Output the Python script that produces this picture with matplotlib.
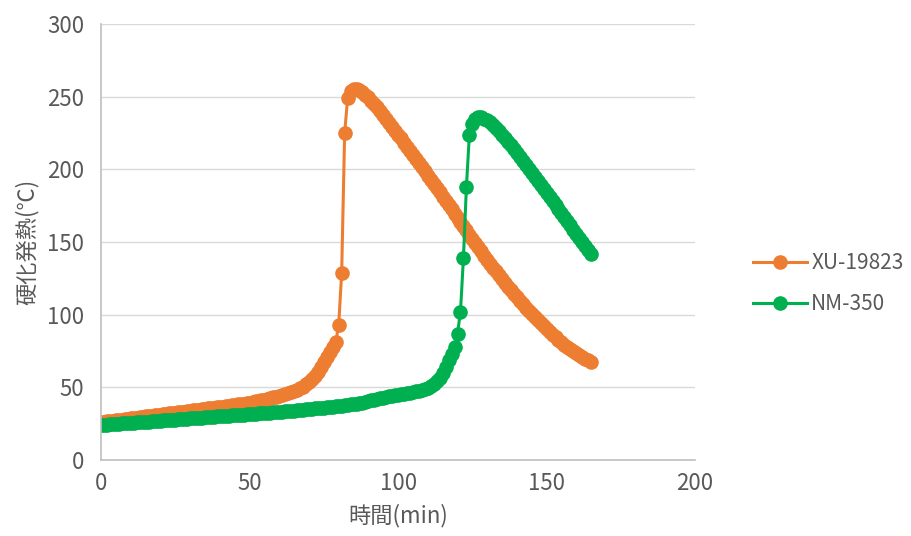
import matplotlib
matplotlib.use('Agg')
import matplotlib.pyplot as plt

plt.rcParams['font.family'] = ['Noto Sans CJK JP', 'DejaVu Sans']

# time (min)
minutes = list(range(0, 166))

# XU-19823 curing exotherm (deg C)
xu_19823 = [
    26.0, 26.3, 26.5, 26.8, 27.0, 27.3, 27.6, 27.8, 28.1, 28.4,
    28.6, 28.9, 29.1, 29.4, 29.7, 29.9, 30.2, 30.5, 30.7, 31.0,
    31.2, 31.5, 31.8, 32.0, 32.3, 32.5, 32.8, 33.1, 33.3, 33.6,
    33.8, 34.1, 34.4, 34.6, 34.9, 35.1, 35.4, 35.7, 35.9, 36.2,
    36.5, 36.7, 37.0, 37.3, 37.6, 37.9, 38.2, 38.5, 38.8, 39.2,
    39.5, 39.9, 40.3, 40.7, 41.1, 41.5, 42.0, 42.5, 43.0, 43.5,
    44.0, 44.6, 45.2, 45.9, 46.6, 47.4, 48.3, 49.3, 50.5, 52.0,
    53.7, 55.7, 58.0, 60.8, 64.0, 67.5, 71.0, 74.5, 78.0, 81.0,
    93.0, 129.0, 225.0, 249.0, 254.0, 255.5, 255.3, 254.5, 253.2, 251.5,
    249.5, 247.3, 245.0, 242.6, 240.0, 237.4, 234.8, 232.1, 229.4, 226.7,
    224.0, 221.3, 218.5, 215.7, 212.9, 210.1, 207.3, 204.4, 201.5, 198.6,
    195.7, 192.8, 189.9, 187.0, 184.1, 181.2, 178.3, 175.4, 172.5, 169.6,
    166.7, 163.8, 160.9, 158.0, 155.1, 152.2, 149.3, 146.4, 143.5, 140.7,
    137.9, 135.1, 132.4, 129.7, 127.0, 124.4, 121.8, 119.2, 116.7, 114.2,
    111.8, 109.4, 107.1, 104.8, 102.5, 100.3, 98.1, 96.0, 93.9, 91.9,
    89.9, 88.0, 86.1, 84.3, 82.6, 80.9, 79.3, 77.8, 76.3, 74.9,
    73.5, 72.2, 70.9, 69.7, 68.5, 67.4,
]

# NM-350 curing exotherm (deg C)
nm_350 = [
    24.0, 24.2, 24.3, 24.5, 24.6, 24.8, 24.9, 25.1, 25.2, 25.4,
    25.5, 25.7, 25.8, 26.0, 26.1, 26.3, 26.4, 26.6, 26.7, 26.9,
    27.0, 27.2, 27.3, 27.5, 27.6, 27.8, 27.9, 28.1, 28.2, 28.4,
    28.5, 28.7, 28.8, 29.0, 29.1, 29.3, 29.4, 29.6, 29.7, 29.9,
    30.0, 30.2, 30.3, 30.5, 30.6, 30.8, 30.9, 31.1, 31.2, 31.4,
    31.5, 31.7, 31.8, 32.0, 32.1, 32.3, 32.4, 32.6, 32.7, 32.9,
    33.0, 33.2, 33.4, 33.6, 33.8, 34.0, 34.2, 34.4, 34.6, 34.8,
    35.0, 35.2, 35.4, 35.6, 35.8, 36.0, 36.2, 36.4, 36.6, 36.8,
    37.0, 37.3, 37.6, 37.9, 38.2, 38.5, 38.8, 39.1, 39.5, 40.0,
    40.5, 41.0, 41.5, 42.0, 42.5, 42.9, 43.3, 43.7, 44.1, 44.4,
    44.7, 45.1, 45.5, 45.9, 46.3, 46.7, 47.2, 47.7, 48.3, 49.0,
    49.8, 50.8, 52.2, 54.0, 56.5, 60.0, 64.0, 68.5, 73.0, 78.0,
    87.0, 102.0, 139.0, 188.0, 224.0, 231.0, 234.5, 235.8, 235.8, 235.0,
    233.8, 232.3, 230.5, 228.5, 226.3, 224.0, 221.6, 219.1, 216.5, 213.8,
    211.1, 208.4, 205.7, 203.0, 200.3, 197.6, 194.9, 192.2, 189.4, 186.6,
    183.8, 181.0, 178.2, 175.4, 172.6, 169.8, 167.0, 164.2, 161.4, 158.6,
    155.8, 153.0, 150.2, 147.4, 144.6, 141.8,
]

series_names = ['XU-19823', 'NM-350']
series_colors = ['#ED7D31', '#00B050']

fig = plt.figure(figsize=(9.11, 5.36), dpi=100)
ax = fig.add_axes([0.111, 0.142, 0.652, 0.813])

for vals, name, col in zip([xu_19823, nm_350], series_names, series_colors):
    ax.plot(minutes, vals, color=col, lw=2.2, marker='o', ms=9.5,
            label=name)

ax.set_xlim(0, 200)
ax.set_ylim(0, 300)
ax.set_xticks([0, 50, 100, 150, 200])
ax.set_yticks([0, 50, 100, 150, 200, 250, 300])
ax.grid(True, axis='y', color='#d9d9d9', lw=1)
ax.set_axisbelow(True)
for s in ['top', 'right']:
    ax.spines[s].set_visible(False)
for s in ['left', 'bottom']:
    ax.spines[s].set_color('#bfbfbf')
    ax.spines[s].set_linewidth(1.2)
ax.tick_params(axis='both', length=0, labelsize=16, labelcolor='#595959')
ax.tick_params(axis='x', pad=9)
ax.tick_params(axis='y', pad=12)

ax.set_xlabel('時間(min)', fontsize=16, color='#595959', labelpad=6)
ax.set_ylabel('硬化発熱(℃)', fontsize=16, color='#595959', labelpad=6)

fig.legend(loc='center left', bbox_to_anchor=(0.806, 0.471), frameon=False,
           fontsize=15, handlelength=2.6, labelcolor='#595959',
           handletextpad=0.2, labelspacing=0.9)

fig.savefig('out.png', dpi=100)
